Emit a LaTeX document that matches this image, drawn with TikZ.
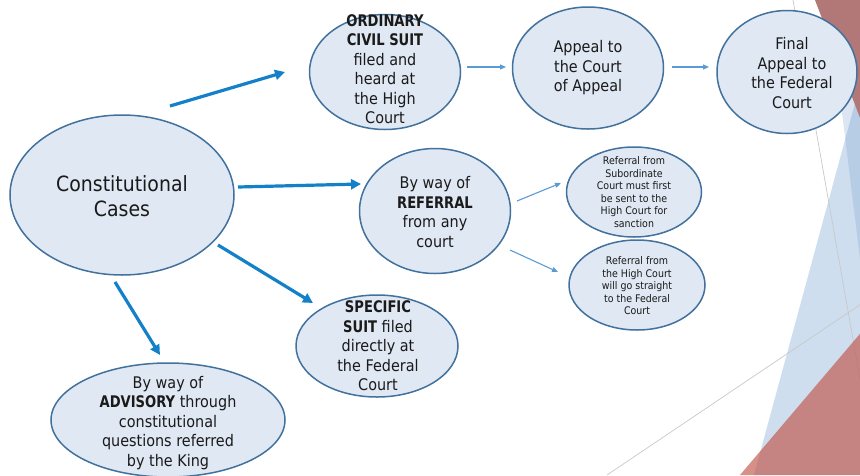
\documentclass[tikz,border=0pt]{standalone}
\usepackage{fontspec}
\setmainfont{DejaVu Sans}[FakeStretch=0.9]
\newfontfamily\kwfont{DejaVu Sans}[FakeStretch=0.82]
\newcommand\kw[1]{{\kwfont\bfseries #1}}
\usetikzlibrary{arrows.meta,shapes.geometric}

\definecolor{ovalfill}{HTML}{DFE8F3}
\definecolor{ovalline}{HTML}{41719C}
\definecolor{arrowdark}{HTML}{1380C8}
\definecolor{arrowlight}{HTML}{5B9BD5}
\definecolor{facetblue}{HTML}{CFDEEE}
\definecolor{facetshade}{RGB}{110,155,205}
\definecolor{facettop}{HTML}{B27877}
\definecolor{facetred}{RGB}{192,85,72}
\definecolor{guidegrey}{HTML}{C8C8C8}
\definecolor{ink}{HTML}{1A1A1A}

\begin{document}
\begin{tikzpicture}[x=1pt,y=-1pt,
  oval/.style={ellipse, draw=ovalline, line width=1.5pt, fill=ovalfill, inner sep=0pt},
  lbl/.style={align=center, inner sep=0pt, text=ink, font=\fontsize{16}{19.5}\selectfont},
  small/.style={lbl, font=\fontsize{10.5}{12.5}\selectfont},
  title/.style={lbl, font=\fontsize{21}{25}\selectfont},
  bigarrow/.style={draw=arrowdark, line width=3.2pt, -{Triangle[length=10pt,width=10pt]}},
  thinarrow/.style={draw=arrowlight, line width=1.1pt, -{Triangle[length=6pt,width=5pt]}},
  guide/.style={draw=guidegrey, line width=0.7pt}]

\useasboundingbox (0,0) rectangle (860,475);

% decorative facets on the right edge
\begin{scope}
  \clip (0,0) rectangle (860,475);
  \fill[facetblue] (864,70) -- (754,475) -- (870,475) -- (870,70) -- cycle;
  \fill[facetshade, opacity=0.25] (838,80) -- (870,340) -- (870,80) -- cycle;
  \draw[guide] (793,0) -- (877,475);
  \draw[guide] (607,475) -- (870,298);
  \fill[facettop] (815,0) -- (870,0) -- (870,144) -- cycle;
  \fill[facetred, opacity=0.65] (740,475) -- (870,322) -- (870,475) -- cycle;
\end{scope}

% ovals
\node[oval, minimum width=224pt, minimum height=160pt] (cc)   at (122,195) {};
\node[oval, minimum width=151pt, minimum height=115pt] (ord)  at (385,72)  {};
\node[oval, minimum width=151pt, minimum height=122pt] (app)  at (588,68)  {};
\node[oval, minimum width=140pt, minimum height=123pt] (fin)  at (787,72)  {};
\node[oval, minimum width=151pt, minimum height=125pt] (ref)  at (435,211) {};
\node[oval, minimum width=135pt, minimum height=90pt]  (sub)  at (634,192) {};
\node[oval, minimum width=136pt, minimum height=90pt]  (hcr)  at (637,285) {};
\node[oval, minimum width=162pt, minimum height=102pt] (spec) at (377,346) {};
\node[oval, minimum width=234pt, minimum height=114pt] (adv)  at (168,420) {};

% texts
\node[title] (ccT)   at (122,196) {Constitutional\\Cases};
\node[lbl]   (ordT)  at (385,69)  {\kw{ORDINARY}\\\kw{CIVIL SUIT}\\filed and\\heard at\\the High\\Court};
\node[lbl]   (appT)  at (588,68)  {Appeal to\\the Court\\of Appeal};
\node[lbl]   (finT)  at (792,73)  {Final\\Appeal to\\the Federal\\Court};
\node[lbl]   (refT)  at (435,212) {By way of\\\kw{REFERRAL}\\from any\\court};
\node[small] (subT)  at (634,192) {Referral from\\Subordinate\\Court must first\\be sent to the\\High Court for\\sanction};
\node[small] (hcrT)  at (637,286) {Referral from\\the High Court\\will go straight\\to the Federal\\Court};
\node[lbl]   (specT) at (378,346) {\kw{SPECIFIC}\\\kw{SUIT} filed\\directly at\\the Federal\\Court};
\node[lbl]   (advT)  at (168,423) {By way of\\\kw{ADVISORY} through\\constitutional\\questions referred\\by the King};

% arrow ends
\coordinate (a1s) at (170,106); \coordinate (a1e) at (285,72);
\coordinate (a2s) at (238,187); \coordinate (a2e) at (361,184);
\coordinate (a3s) at (218,245); \coordinate (a3e) at (313,303);
\coordinate (a4s) at (115,282); \coordinate (a4e) at (160,355);
\coordinate (t1s) at (467,67);  \coordinate (t1e) at (506,67);
\coordinate (t2s) at (672,67);  \coordinate (t2e) at (709,67);
\coordinate (t3s) at (517,201); \coordinate (t3e) at (561,183);
\coordinate (t4s) at (510,250); \coordinate (t4e) at (558,272);

\draw[bigarrow] (a1s) -- (a1e);
\draw[bigarrow] (a2s) -- (a2e);
\draw[bigarrow] (a3s) -- (a3e);
\draw[bigarrow] (a4s) -- (a4e);
\draw[thinarrow] (t1s) -- (t1e);
\draw[thinarrow] (t2s) -- (t2e);
\draw[thinarrow] (t3s) -- (t3e);
\draw[thinarrow] (t4s) -- (t4e);
\end{tikzpicture}
\end{document}
